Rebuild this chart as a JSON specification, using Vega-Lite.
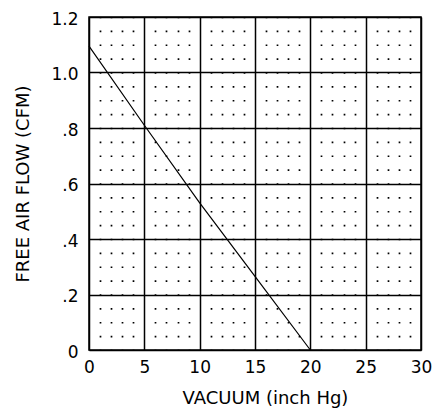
{
  "$schema": "https://vega.github.io/schema/vega-lite/v6.json",
  "width": 332,
  "height": 333,
  "autosize": "none",
  "padding": {"left": 89, "top": 17, "right": 14, "bottom": 59},
  "background": "white",
  "config": {
    "view": {"stroke": "black", "strokeWidth": 1.5},
    "axis": {"labelFont": "DejaVu Sans", "titleFont": "DejaVu Sans", "labelColor": "black", "titleColor": "black", "titleFontWeight": "normal"}
  },
  "data": {"values": [
    {"vacuum": 0, "flow": 1.095},
    {"vacuum": 5, "flow": 0.81},
    {"vacuum": 10, "flow": 0.53},
    {"vacuum": 15, "flow": 0.265},
    {"vacuum": 20, "flow": 0}
  ]},
  "mark": {"type": "line", "color": "black", "strokeWidth": 1.2},
  "encoding": {
    "x": {
      "field": "vacuum", "type": "quantitative",
      "scale": {"domain": [0, 30], "nice": false},
      "axis": {
        "title": "VACUUM (inch Hg)",
        "values": [0,1,2,3,4,5,6,7,8,9,10,11,12,13,14,15,16,17,18,19,20,21,22,23,24,25,26,27,28,29,30],
        "labelExpr": "datum.value % 5 === 0 ? datum.label : ''",
        "labelFlush": false,
        "labelFontSize": 17,
        "labelPadding": 9,
        "ticks": false,
        "domain": false,
        "grid": true,
        "gridColor": "black",
        "gridOpacity": 1,
        "gridWidth": {"condition": {"test": "datum.value % 5 === 0", "value": 1.5}, "value": 1.7},
        "gridDash": {"condition": {"test": "datum.value % 5 === 0", "value": []}, "value": [1.7, 12.175]},
        "gridDashOffset": 0.85,
        "titleFontSize": 18,
        "titlePadding": 14,
        "titleX": 176
      }
    },
    "y": {
      "field": "flow", "type": "quantitative",
      "scale": {"domain": [0, 1.2], "nice": false},
      "axis": {
        "title": "FREE AIR FLOW (CFM)",
        "values": [0, 0.2, 0.4, 0.6, 0.8, 1.0, 1.2],
        "labelExpr": "datum.value === 0 ? '0' : datum.value >= 1 ? format(datum.value, '.1f') : replace(format(datum.value, '.1f'), '0.', '.')",
        "labelFlush": false,
        "labelFontSize": 17,
        "labelPadding": 11,
        "labelOffset": 2,
        "ticks": false,
        "domain": false,
        "grid": true,
        "gridColor": "black",
        "gridOpacity": 1,
        "gridWidth": 1.5,
        "titleFontSize": 18,
        "titlePadding": 18
      }
    }
  }
}
